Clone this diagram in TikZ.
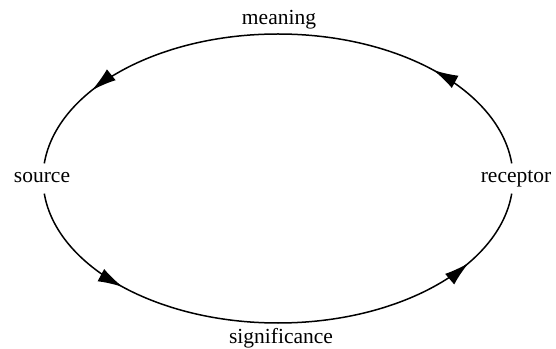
\documentclass[tikz,border=0pt]{standalone}
\usepackage{fontspec}
\setmainfont{Liberation Serif}
\usetikzlibrary{calc, arrows.meta, decorations.markings}

\begin{document}
\begin{tikzpicture}[x=1pt, y=1pt,
    lbl/.style={font=\fontsize{21.5}{26}\selectfont, inner sep=0pt, anchor=base},
    flow/.style={line width=1.5pt, postaction={decorate, decoration={markings,
        mark=at position #1 with {\arrow{Latex[length=25pt, width=14pt]}}}}}]
        \useasboundingbox (0,0) rectangle (556,348);
        % labels round the cycle
        \node[lbl] (meaning) at (279,323) {meaning};
        \node[lbl] (source) at (42,165) {source};
        \node[lbl] (receptor) at (516,165) {receptor};
        \node[lbl] (significance) at (281,5) {significance};
        % points on the ellipse
        \coordinate (c) at (278,169.5);
        \coordinate (srcB) at ($(c)+(186:235 and 144.5)$);
        \coordinate (srcT) at ($(c)+(174:235 and 144.5)$);
        \coordinate (recB) at ($(c)+(354:235 and 144.5)$);
        \coordinate (recT) at ($(c)+(6:235 and 144.5)$);
        \coordinate (bot) at ($(c)+(270:235 and 144.5)$);
        \coordinate (top) at ($(c)+(90:235 and 144.5)$);
        % the four quarters, counterclockwise
        \draw[flow=0.44] (srcB) arc[start angle=186, end angle=270, x radius=235, y radius=144.5];
        \draw[flow=0.71] (bot) arc[start angle=270, end angle=354, x radius=235, y radius=144.5];
        \draw[flow=0.44] (recT) arc[start angle=6, end angle=90, x radius=235, y radius=144.5];
        \draw[flow=0.69] (top) arc[start angle=90, end angle=174, x radius=235, y radius=144.5];
      \end{tikzpicture}
\end{document}
